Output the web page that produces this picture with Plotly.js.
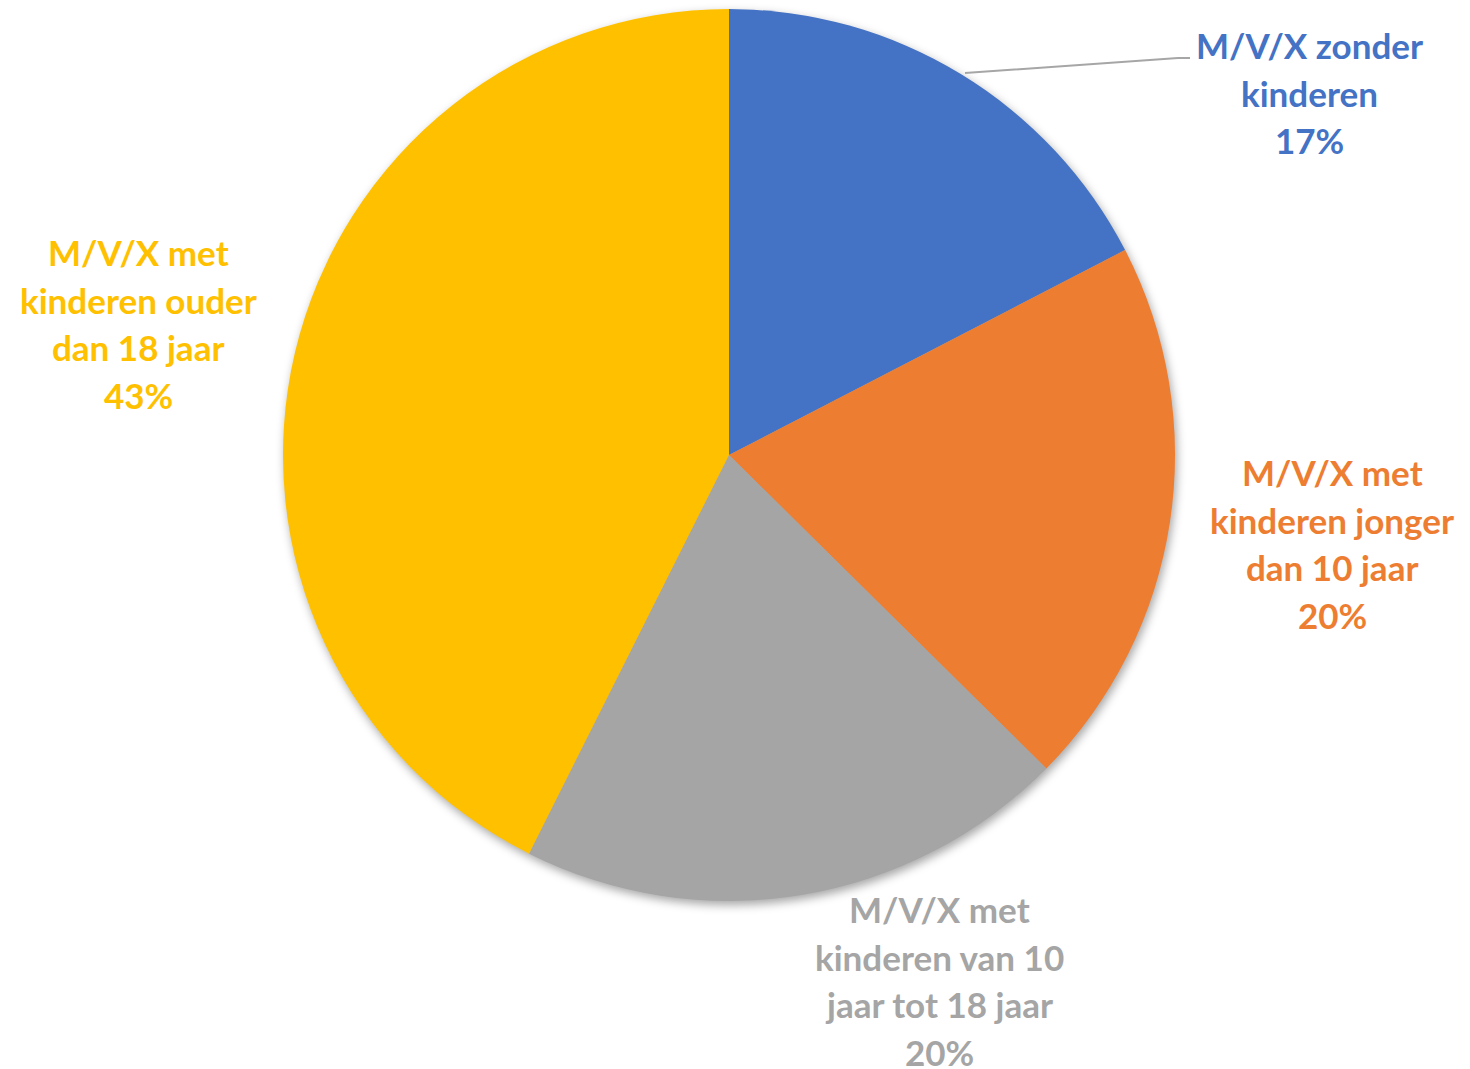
<!DOCTYPE html>
<html>
<head>
<meta charset="utf-8">
<script src="https://cdn.plot.ly/plotly-3.0.1.min.js"></script>
<style>
html,body{margin:0;padding:0;background:#fff;}
#chart{width:1470px;height:1069px;}
#chart .pielayer{filter:drop-shadow(2px 4px 5px rgba(0,0,0,0.35));}
</style>
</head>
<body>
<div id="chart"></div>
<script>
// Data
const categories = [
  "M/V/X zonder kinderen",
  "M/V/X met kinderen jonger dan 10 jaar",
  "M/V/X met kinderen van 10 jaar tot 18 jaar",
  "M/V/X met kinderen ouder dan 18 jaar"
];
const labelLines = [
  ["M/V/X zonder", "kinderen"],
  ["M/V/X met", "kinderen jonger", "dan 10 jaar"],
  ["M/V/X met", "kinderen van 10", "jaar tot 18 jaar"],
  ["M/V/X met", "kinderen ouder", "dan 18 jaar"]
];
const values = [17.4, 20.0, 20.0, 42.6];
const colors = ["#4472C4", "#ED7D31", "#A5A5A5", "#FFC000"];

const W = 1470, H = 1069;
// pie geometry (pixels)
const cx = 729, cy = 455, R = 446;

// label placement (pixel centers of first line)
const labelPos = [
  {x: 1309, y: 45},
  {x: 1332, y: 472},
  {x: 939, y: 909},
  {x: 138, y: 252}
];
const lineStep = 47.6;

const total = values.reduce((a, b) => a + b, 0);
const annotations = [];
categories.forEach((c, i) => {
  const lines = labelLines[i].concat([Math.round(values[i] / total * 100) + "%"]);
  lines.forEach((t, j) => {
    annotations.push({
      xref: "paper", yref: "paper",
      x: labelPos[i].x / W,
      y: 1 - (labelPos[i].y + j * lineStep) / H,
      xanchor: "center", yanchor: "middle",
      text: t, showarrow: false, borderpad: 0,
      font: {family: "Lato, 'Open Sans', sans-serif", size: 35, color: colors[i], weight: "bold"}
    });
  });
});

const trace = {
  type: "pie",
  labels: categories,
  values: values,
  sort: false,
  direction: "clockwise",
  rotation: 0,
  marker: {colors: colors, line: {width: 0}},
  textinfo: "none",
  hoverinfo: "label+percent",
  domain: {
    x: [(cx - R) / W, (cx + R) / W],
    y: [1 - (cy + R) / H, 1 - (cy - R) / H]
  },
  showlegend: false
};

const layout = {
  width: W, height: H,
  margin: {l: 0, r: 0, t: 0, b: 0},
  paper_bgcolor: "#ffffff",
  showlegend: false,
  annotations: annotations,
  shapes: [{
    type: "path", xref: "paper", yref: "paper",
    path: "M " + (965 / W) + " " + (1 - 73 / H) + " L " + (1178 / W) + " " + (1 - 58 / H) + " L " + (1190 / W) + " " + (1 - 58 / H),
    line: {color: "#A6A6A6", width: 2}
  }]
};

Plotly.newPlot("chart", [trace], layout, {displayModeBar: false, staticPlot: true});
</script>
</body>
</html>
